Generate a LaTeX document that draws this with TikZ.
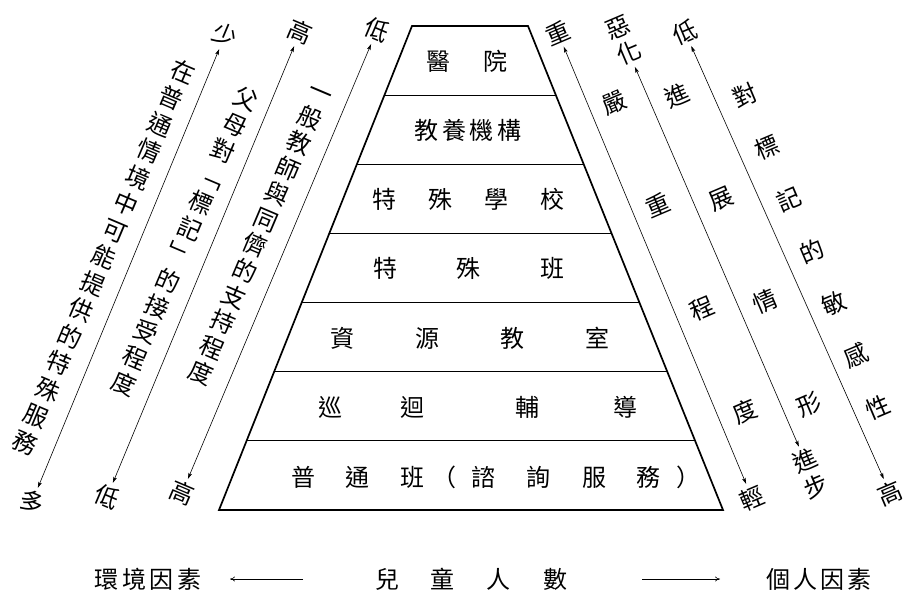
\documentclass[tikz,border=0pt]{standalone}
\usepackage{fontspec}
\newfontfamily\cjk{Noto Sans CJK TC}
\usetikzlibrary{arrows.meta,calc}
\newlength\cpitch
\newcommand\cc[1]{\makebox[\cpitch]{#1}}
\begin{document}
\begin{tikzpicture}[x=1pt,y=-1pt,
  row/.style={font={\cjk\fontsize{24}{28}\selectfont}, inner sep=0pt},
  lstack/.style={font={\cjk\fontsize{24}{#1}\selectfont}, align=center, rotate=-23, inner sep=0pt},
  rstack/.style={font={\cjk\fontsize{24}{#1}\selectfont}, align=center, rotate=23, inner sep=0pt},
  lend/.style={font={\cjk\fontsize{24}{28}\selectfont}, align=center, rotate=-23, inner sep=4pt},
  rend/.style={font={\cjk\fontsize{24}{28}\selectfont}, align=center, rotate=23, inner sep=4pt},
  axis/.style={line width=0.6pt, {Stealth[length=6pt,width=3.6pt,inset=1.2pt]}-{Stealth[length=6pt,width=3.6pt,inset=1.2pt]}},
  flow/.style={line width=0.6pt, -{To[length=5pt,width=5pt]}},
  outline/.style={line width=1.7pt, line join=miter},
  divider/.style={line width=0.9pt}
]
\path[use as bounding box] (0,0) rectangle (908,595);

% pyramid
\coordinate (TL) at (412,26);
\coordinate (TR) at (528,26);
\coordinate (BR) at (723,510);
\coordinate (BL) at (219,510);
\foreach \k in {1,...,6}{
  \draw[divider] ($(TL)!\k/7!(BL)$) -- ($(TR)!\k/7!(BR)$);
}
\draw[outline] (TL) -- (TR) -- (BR) -- (BL) -- cycle;

% rows
\node[row] (r1) at (466.5,61) {\setlength\cpitch{57pt}\cc{醫}\cc{院}};
\node[row] (r2) at (468,130) {\setlength\cpitch{27.5pt}\cc{教}\cc{養}\cc{機}\cc{構}};
\node[row] (r3) at (468.5,199) {\setlength\cpitch{55.7pt}\cc{特}\cc{殊}\cc{學}\cc{校}};
\node[row] (r4) at (469,268) {\setlength\cpitch{84pt}\cc{特}\cc{殊}\cc{班}};
\node[row] (r5) at (470,338) {\setlength\cpitch{84.7pt}\cc{資}\cc{源}\cc{教}\cc{室}};
\node[row] (r6) at (477.5,407) {\setlength\cpitch{83pt}\cc{巡}\cc{迴}\hspace{31pt}\cc{輔}\hspace{15pt}\cc{導}};
\node[row] (r7) at (484,477) {\setlength\cpitch{55pt}\cc{普}\cc{通}\cc{班}\makebox[16pt][r]{（}\cc{諮}\cc{詢}\cc{服}\cc{務}\makebox[16pt][l]{）}};

% left axes
\node[lend] (l1a) at (225,35) {少};
\node[lend] (l1b) at (32,502) {多};
\node[lend] (l2a) at (300,32) {高};
\node[lend] (l2b) at (107,497) {低};
\node[lend] (l3a) at (377,30) {低};
\node[lend] (l3b) at (182,493) {高};
\draw[axis] (l1a) -- (l1b);
\draw[axis] (l2a) -- (l2b);
\draw[axis] (l3a) -- (l3b);
\node[lstack=28.8] (l1t) at (104,257) {在\\普\\通\\情\\境\\中\\可\\能\\提\\供\\的\\特\\殊\\服\\務};
\node[lstack=28.2] (l2t) at (185,241.5) {父\\母\\對\\﹁\\標\\記\\﹂\\的\\接\\受\\程\\度};
\node[lstack=27.8] (l3t) at (259,237) {一\\般\\教\\師\\與\\同\\儕\\的\\支\\持\\程\\度};

% right axes
\node[rend] (r1a) at (558,33) {重};
\node[rend] (r1b) at (752,498) {輕};
\node[rend] (r2a) at (623.5,40.5) {惡\\化};
\node[rend] (r2b) at (810.5,473.5) {進\\步};
\node[rend] (r3a) at (685,32) {低};
\node[rend] (r3b) at (890,493) {高};
\draw[axis] (r1a) -- (r1b);
\draw[axis] (r2a) -- (r2b);
\draw[axis] (r3a) -- (r3b);
\node[rstack=112] (r1t) at (680,257.5) {嚴\\重\\程\\度};
\node[rstack=112] (r2t) at (743,250) {進\\展\\情\\形};
\node[rstack=56.4] (r3t) at (811.5,251.5) {對\\標\\記\\的\\敏\\感\\性};

% bottom
\node[row] (env) at (148,579) {\setlength\cpitch{27.5pt}\cc{環}\cc{境}\cc{因}\cc{素}};
\node[row] (kids) at (471,579) {\setlength\cpitch{56pt}\cc{兒}\cc{童}\cc{人}\cc{數}};
\node[row] (pers) at (819,579) {\setlength\cpitch{27pt}\cc{個}\cc{人}\cc{因}\cc{素}};
\coordinate (e1) at (303,579);
\coordinate (e2) at (230,579);
\coordinate (p1) at (642,579);
\coordinate (p2) at (720,579);
\draw[flow] (e1) -- (e2);
\draw[flow] (p1) -- (p2);
\end{tikzpicture}
\end{document}
